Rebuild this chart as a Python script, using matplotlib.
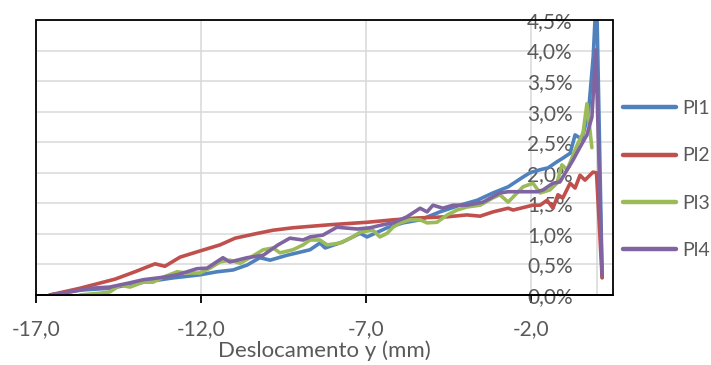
import matplotlib
matplotlib.use("Agg")
import matplotlib.pyplot as plt
from matplotlib.ticker import FuncFormatter, MultipleLocator
from matplotlib.patches import Rectangle

plt.rcParams['font.family'] = ['Lato', 'DejaVu Sans']

# displacement (mm) and share (%)
pl1_x = [-16.58, -15.67, -14.76, -13.85, -12.84, -12.03, -11.51, -11.02, -10.60,
         -10.21, -9.90, -9.39, -8.69, -8.39, -8.23, -7.69, -7.17, -6.96, -6.35,
         -5.87, -5.35, -4.75, -4.14, -3.62, -3.14, -2.68, -2.23, -2.02, -1.71,
         -1.47, -1.20, -1.02, -0.80, -0.65, -0.45, -0.25, -0.10, 0.00, 0.17]
pl1_y = [0.00, 0.08, 0.11, 0.20, 0.28, 0.33, 0.38, 0.41, 0.49,
         0.61, 0.57, 0.65, 0.74, 0.85, 0.77, 0.87, 1.01, 0.95, 1.10,
         1.18, 1.23, 1.36, 1.47, 1.55, 1.67, 1.77, 1.93, 2.00, 2.05,
         2.08, 2.18, 2.24, 2.32, 2.62, 2.55, 2.95, 3.90, 5.00, 0.29]

pl2_x = [-16.58, -15.67, -14.60, -14.00, -13.39, -13.09, -12.63, -12.03, -11.42,
         -10.96, -10.36, -9.81, -9.21, -8.08, -6.96, -6.17, -5.44, -4.53, -3.93,
         -3.53, -3.14, -2.68, -2.53, -1.93, -1.71, -1.50, -1.32, -1.17, -1.02,
         -0.80, -0.65, -0.50, -0.35, -0.11, 0.00, 0.17]
pl2_y = [0.00, 0.11, 0.26, 0.38, 0.51, 0.47, 0.62, 0.72, 0.82,
         0.93, 1.00, 1.06, 1.10, 1.15, 1.19, 1.23, 1.26, 1.28, 1.31,
         1.29, 1.36, 1.42, 1.39, 1.47, 1.47, 1.55, 1.42, 1.64, 1.59,
         1.83, 1.75, 1.96, 1.88, 2.01, 2.00, 0.28]

pl3_x = [-15.67, -15.06, -14.76, -14.45, -14.15, -13.75, -13.45, -13.15, -12.72,
         -12.42, -12.03, -11.72, -11.42, -11.12, -10.81, -10.51, -10.11, -9.81,
         -9.60, -9.21, -8.90, -8.69, -8.39, -8.17, -7.78, -7.39, -7.17, -6.78,
         -6.57, -6.35, -6.17, -5.96, -5.66, -5.35, -5.14, -4.84, -4.53, -4.23,
         -3.93, -3.53, -3.14, -2.93, -2.68, -2.23, -1.93, -1.71, -1.41, -1.20,
         -1.05, -0.89, -0.59, -0.41, -0.29, -0.14]
pl3_y = [0.00, 0.03, 0.05, 0.16, 0.13, 0.21, 0.21, 0.29, 0.38,
         0.36, 0.36, 0.44, 0.54, 0.57, 0.52, 0.61, 0.74, 0.77,
         0.69, 0.74, 0.82, 0.90, 0.90, 0.82, 0.85, 0.95, 1.03, 1.06,
         0.95, 1.01, 1.11, 1.18, 1.23, 1.23, 1.18, 1.19, 1.31, 1.39,
         1.44, 1.47, 1.59, 1.64, 1.52, 1.77, 1.83, 1.67, 1.72, 1.83,
         2.13, 2.05, 2.45, 2.65, 3.13, 2.41]

pl4_x = [-16.58, -15.97, -15.36, -14.76, -14.15, -13.75, -13.15, -12.72, -12.12,
         -11.81, -11.33, -11.12, -10.60, -10.11, -9.66, -9.30, -8.90, -8.69,
         -8.30, -7.87, -7.69, -7.26, -6.87, -6.48, -6.17, -5.75, -5.35, -5.14,
         -4.96, -4.66, -4.35, -3.93, -3.44, -2.93, -2.68, -2.41, -2.11, -1.80,
         -1.62, -1.32, -1.11, -0.89, -0.71, -0.50, -0.29, -0.14, -0.02, 0.17]
pl4_y = [0.00, 0.05, 0.11, 0.13, 0.20, 0.25, 0.29, 0.33, 0.43,
         0.44, 0.61, 0.54, 0.61, 0.65, 0.82, 0.93, 0.90, 0.95,
         0.98, 1.11, 1.10, 1.08, 1.10, 1.15, 1.18, 1.28, 1.42, 1.36,
         1.47, 1.42, 1.47, 1.47, 1.52, 1.67, 1.69, 1.69, 1.69, 1.69,
         1.72, 1.83, 1.85, 2.05, 2.21, 2.42, 2.62, 2.91, 4.01, 0.33]

series = [("Pl1", pl1_x, pl1_y, "#4F81BD"),
          ("Pl2", pl2_x, pl2_y, "#C0504D"),
          ("Pl3", pl3_x, pl3_y, "#9BBB59"),
          ("Pl4", pl4_x, pl4_y, "#8064A2")]

fig = plt.figure(figsize=(7.11, 3.65), dpi=100)
ax = fig.add_axes([36/711, 1-295/365, (613-36)/711, (295-20)/365])

for name, xs, ys, col in series:
    ax.plot(xs, [v/100 for v in ys], color=col, lw=2.6, label=name,
            solid_joinstyle="round", solid_capstyle="round", zorder=3)

ax.set_xlim(-17, 0.5)
ax.set_ylim(0, 0.045)
ax.xaxis.set_major_locator(MultipleLocator(5, offset=-2))
ax.yaxis.set_major_locator(MultipleLocator(0.005))
ax.xaxis.set_major_formatter(FuncFormatter(lambda v, p: f"{v:.1f}".replace(".", ",").replace("\u2212", "-")))
ax.yaxis.set_major_formatter(FuncFormatter(lambda v, p: f"{v*100:.1f}%".replace(".", ",")))

ax.grid(True, color="#d9d9d9", lw=1.1, zorder=0)
ax.set_axisbelow(True)

# y axis crosses at x = 0
ax.spines["left"].set_position(("data", 0))
ax.spines["left"].set_color("#d9d9d9")
ax.spines["left"].set_linewidth(1.1)
ax.spines["left"].set_zorder(1)
for s in ["right", "top"]:
    ax.spines[s].set_visible(False)
ax.spines["bottom"].set_color("black")
ax.spines["bottom"].set_linewidth(1.3)
ax.add_patch(Rectangle((0, 0), 1, 1, transform=ax.transAxes, fill=False,
                       ec="black", lw=1.3, clip_on=False, zorder=5))

ax.tick_params(axis="y", length=0, pad=17, labelsize=15, labelcolor="#595959")
ax.tick_params(axis="x", length=6, width=1.3, direction="out", color="black",
               pad=11, labelsize=15, labelcolor="#595959")
for t in ax.get_yticklabels():
    t.set_zorder(6)

ax.set_xlabel("Deslocamento y (mm)", fontsize=16, color="#595959", labelpad=1)

fig.legend(loc="center left", bbox_to_anchor=(623/711, 1-179.5/365), frameon=False,
           fontsize=14, handlelength=2.75, handletextpad=0.3, labelspacing=1.55,
           borderpad=0, borderaxespad=0, labelcolor="#595959")
for h in fig.legends[0].get_lines():
    h.set_linewidth(3.2)

fig.savefig("out.png", dpi=100)
